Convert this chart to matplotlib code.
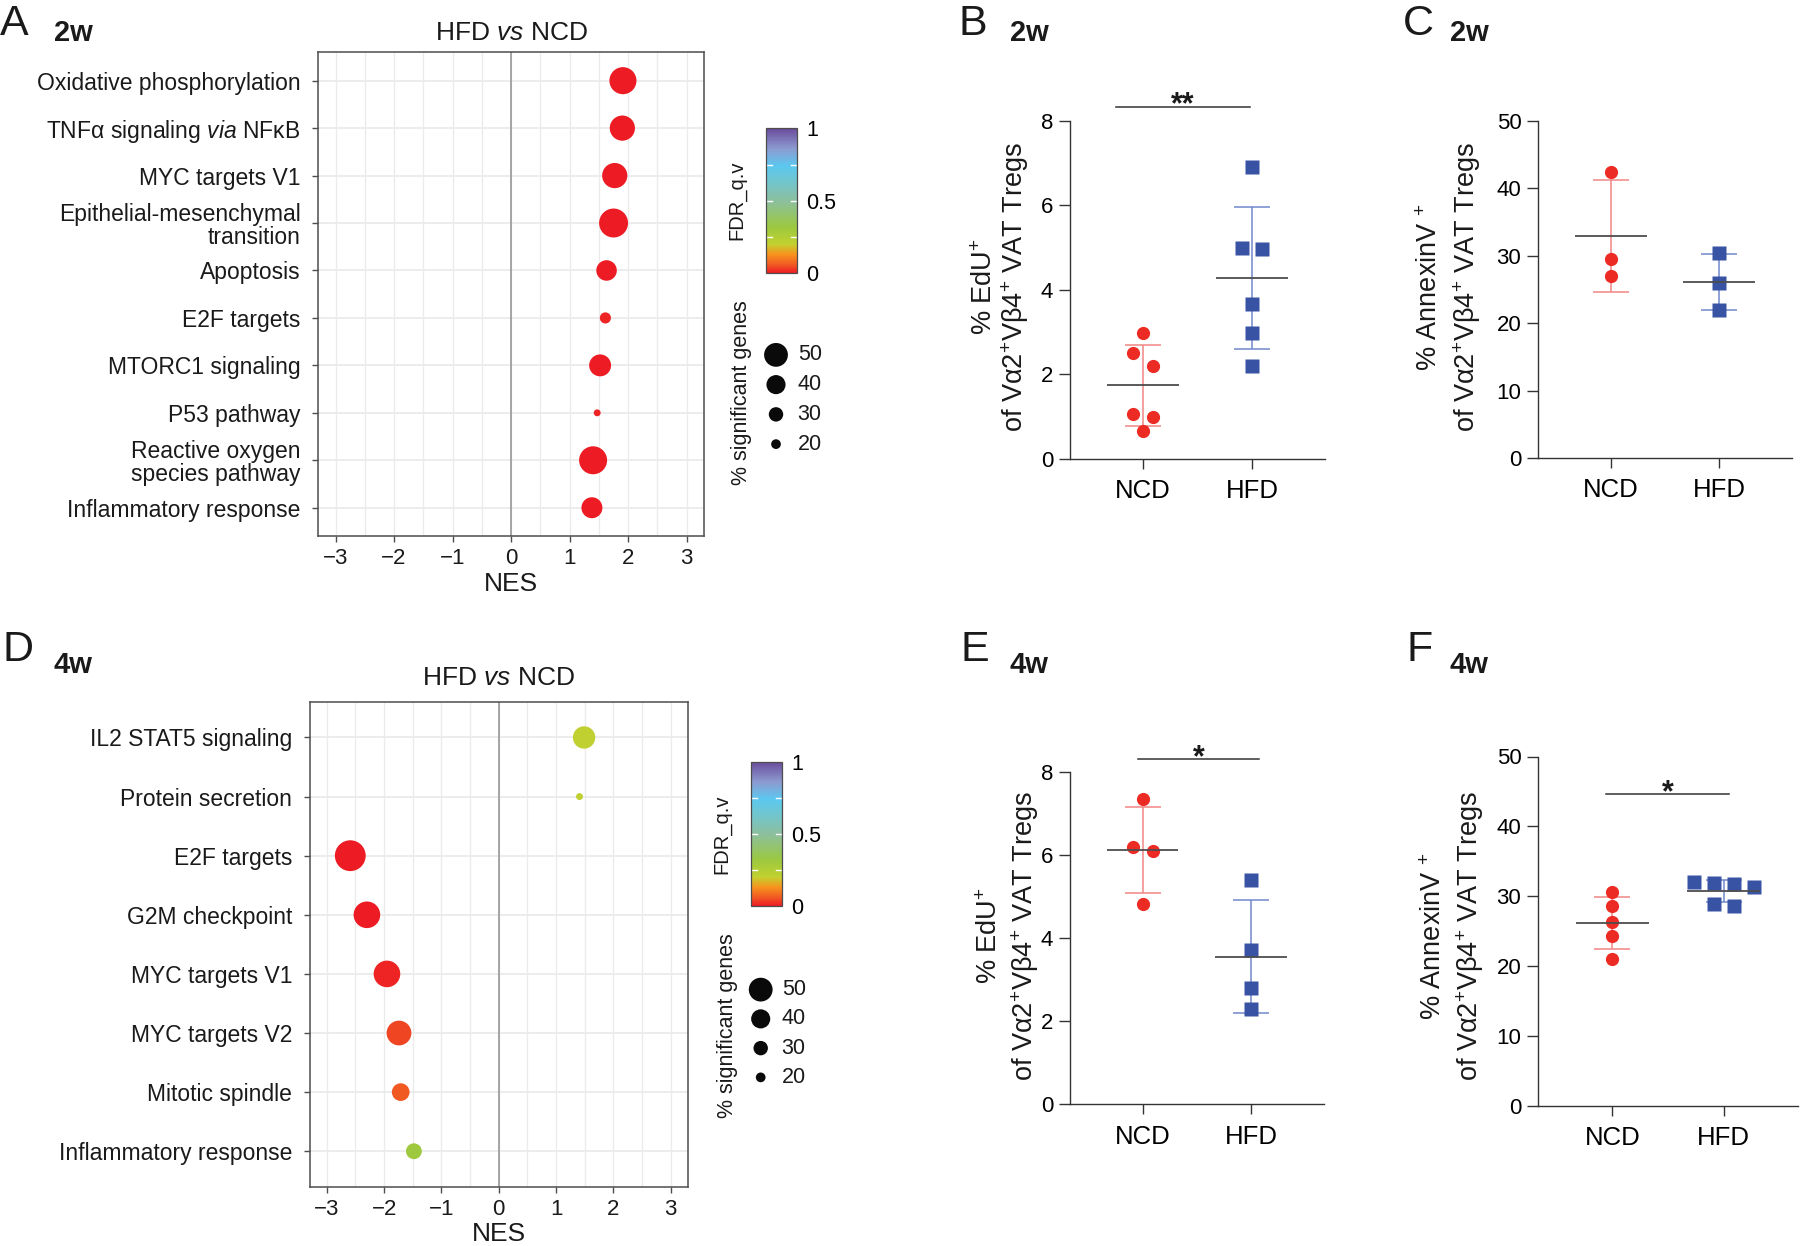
import numpy as np
import matplotlib
matplotlib.use("Agg")
import matplotlib.pyplot as plt
from matplotlib.colors import LinearSegmentedColormap, Normalize
from matplotlib.cm import ScalarMappable

plt.rcParams['font.family'] = ['Liberation Sans', 'DejaVu Sans']
plt.rcParams['mathtext.fontset'] = 'custom'
plt.rcParams['mathtext.rm'] = 'Liberation Sans'
plt.rcParams['mathtext.it'] = 'Liberation Sans:italic'
plt.rcParams['mathtext.bf'] = 'Liberation Sans:bold'
plt.rcParams['text.color'] = '#1a1a1a'

# ---------------- data ----------------
cats_2w = ['Oxidative phosphorylation', 'TNFα signaling $\\mathit{via}$ NFκB', 'MYC targets V1',
           'Epithelial-mesenchymal\ntransition', 'Apoptosis', 'E2F targets', 'MTORC1 signaling',
           'P53 pathway', 'Reactive oxygen\nspecies pathway', 'Inflammatory response']
nes_2w = [1.91, 1.90, 1.77, 1.75, 1.63, 1.61, 1.52, 1.47, 1.40, 1.38]
fdr_2w = [0.0, 0.0, 0.0, 0.0, 0.0, 0.01, 0.0, 0.01, 0.0, 0.0]
pct_2w = [57, 53, 53, 61, 43, 23, 46, 14, 59, 44]

cats_4w = ['IL2 STAT5 signaling', 'Protein secretion', 'E2F targets', 'G2M checkpoint',
           'MYC targets V1', 'MYC targets V2', 'Mitotic spindle', 'Inflammatory response']
nes_4w = [1.49, 1.41, -2.59, -2.30, -1.95, -1.74, -1.71, -1.48]
fdr_4w = [0.21, 0.21, 0.0, 0.0, 0.01, 0.04, 0.06, 0.31]
pct_4w = [47, 14, 65, 56, 56, 52, 37, 33]

size_breaks = [50, 40, 30, 20]
groups = ['NCD', 'HFD']

edu_2w_ncd = [2.99, 2.50, 2.21, 1.06, 1.00, 0.67]
edu_2w_hfd = [6.90, 4.98, 4.96, 3.66, 2.99, 2.20]
anx_2w_ncd = [42.4, 29.5, 27.0]
anx_2w_hfd = [30.4, 25.9, 22.0]
edu_4w_ncd = [7.34, 6.18, 6.10, 4.81]
edu_4w_hfd = [5.40, 3.72, 2.79, 2.30]
anx_4w_ncd = [30.6, 28.6, 26.3, 24.3, 21.0]
anx_4w_hfd = [32.0, 31.9, 31.7, 31.3, 28.9, 28.6]

# ---------------- style ----------------
cmap = LinearSegmentedColormap.from_list('fdr', [
    (0.0, '#ED1C24'), (0.06, '#F15A22'), (0.13, '#F7941D'), (0.2, '#C2D12F'),
    (0.32, '#9BC840'), (0.5, '#8CBF9E'), (0.62, '#74C5C9'), (0.74, '#5BC8F0'),
    (0.86, '#8C9BD0'), (1.0, '#6A4C9C')])
norm = Normalize(0, 1)
RED, RED_EB = '#EC2B24', '#F08585'
BLUE, BLUE_EB = '#3953A4', '#7189CB'

W, H = 1800, 1246
fig = plt.figure(figsize=(W / 100, H / 100), dpi=100)


def axpx(l, t, r, b):
    return fig.add_axes([l / W, 1 - b / H, (r - l) / W, (b - t) / H])


def ftext(x, y, s, **kw):
    return fig.text(x / W, 1 - y / H, s, **kw)


def dot_area(p):
    d = 0.469 * np.asarray(p, float) + 0.35  # diameter in px
    return (d * 0.72) ** 2


def dotplot(rect, cats, nes, fdr, pct):
    ax = axpx(*rect)
    n = len(cats)
    ypos = n - np.arange(n)
    ax.set_xlim(-3.3, 3.3)
    ax.set_ylim(0.4, n + 0.6)
    ax.set_xticks(np.arange(-3, 4))
    ax.set_xticks(np.arange(-3, 3.01, 0.5), minor=True)
    ax.set_yticks(ypos)
    ax.set_yticklabels(cats, fontsize=16.5, linespacing=1.0)
    ax.grid(True, which='both', axis='x', color='#ebebeb', lw=1.0)
    ax.grid(True, which='major', axis='y', color='#ebebeb', lw=1.3)
    ax.set_axisbelow(True)
    ax.axvline(0, color='#9e9e9e', lw=1.3, zorder=1.5)
    ax.scatter(nes, ypos, s=dot_area(pct), c=fdr, cmap=cmap, norm=norm,
               edgecolors='none', zorder=3)
    for sp in ax.spines.values():
        sp.set_color('#4d4d4d')
        sp.set_linewidth(1.1)
    ax.tick_params(axis='both', which='major', color='#4d4d4d', length=4.5, width=1.0,
                   labelcolor='#1a1a1a')
    ax.tick_params(axis='x', labelsize=16, pad=4)
    ax.tick_params(axis='y', pad=8)
    ax.tick_params(axis='x', which='minor', length=0)
    return ax


def colorbar(rect):
    cax = axpx(*rect)
    cb = fig.colorbar(ScalarMappable(norm=norm, cmap=cmap), cax=cax)
    cb.set_ticks([0, 0.5, 1])
    cb.set_ticklabels(['0', '0.5', '1'])
    cb.outline.set_edgecolor('#4d4d4d')
    cb.outline.set_linewidth(0.9)
    cax.tick_params(length=0, labelsize=15.5, pad=7)
    tr = cax.get_yaxis_transform()
    for v in (0.25, 0.5, 0.75):
        cax.plot([0, 0.2], [v, v], color='white', lw=1.0, transform=tr)
        cax.plot([0.8, 1], [v, v], color='white', lw=1.0, transform=tr)
    return cax


def size_legend(rect, x_dot, x_lab):
    lax = axpx(*rect)
    lax.set_xlim(0, rect[2] - rect[0])
    lax.set_ylim(-0.5, len(size_breaks) - 0.5)
    lax.axis('off')
    yy = np.arange(len(size_breaks))[::-1]
    lax.scatter(np.full(len(size_breaks), x_dot), yy, s=dot_area(size_breaks),
                color='#0a0a0a', edgecolors='none')
    for y, b in zip(yy, size_breaks):
        lax.text(x_lab, y, str(b), va='center', ha='left', fontsize=15.5)
    return lax


def swarm(ax, vals, diam_px=13.3, step_px=20.0):
    vals = np.asarray(vals, float)
    ypx = ax.transData.transform(np.column_stack([np.zeros_like(vals), vals]))[:, 1]
    xunit = ax.transData.transform((1, 0))[0] - ax.transData.transform((0, 0))[0]
    order = np.argsort(-vals, kind='stable')
    offs = np.zeros(len(vals))
    grps, cur = [], [order[0]]
    for a, b in zip(order[:-1], order[1:]):
        if abs(ypx[a] - ypx[b]) < diam_px:
            cur.append(b)
        else:
            grps.append(cur)
            cur = [b]
    grps.append(cur)
    for g in grps:
        k = len(g)
        for j, idx in enumerate(g):
            offs[idx] = (j - (k - 1) / 2) * step_px / xunit
    return offs


def scatter_panel(rect, ncd, hfd, ymax, ystep, sig=None, xpad=7):
    ax = axpx(*rect)
    ax.set_xlim(-0.67, 1.67)
    ax.set_ylim(0, ymax)
    ax.spines[['top', 'right']].set_visible(False)
    for s in ('left', 'bottom'):
        ax.spines[s].set_color('#333333')
        ax.spines[s].set_linewidth(1.0)
    ax.set_yticks(np.arange(0, ymax + 0.01, ystep))
    ax.set_xticks([0, 1])
    ax.set_xticklabels(groups)
    ax.tick_params(axis='y', length=8, width=1.0, color='#333333', labelsize=16, pad=4)
    ax.tick_params(axis='x', length=7.5, width=1.0, color='#333333', labelsize=18.5, pad=xpad)
    for i, (vals, fc, ec, mk) in enumerate([(ncd, RED, RED_EB, 'o'), (hfd, BLUE, BLUE_EB, 's')]):
        vals = np.asarray(vals, float)
        m = vals.mean()
        sd = vals.std(ddof=1)
        ax.errorbar(i, m, yerr=sd, fmt='none', ecolor=ec, elinewidth=1.1, capsize=13,
                    capthick=1.1, zorder=2)
        offs = swarm(ax, vals)
        ax.plot(i + offs, vals, ls='none', marker=mk, ms=9.5, color=fc, mec='none', zorder=3)
        ax.hlines(m, i - 0.33, i + 0.33, color='#4d4d4d', lw=1.3, zorder=4)
    if sig:
        x0, x1, y, label = sig
        ax.plot([x0, x1], [y, y], color='#333333', lw=1.1, clip_on=False)
        ax.annotate(label, xy=((x0 + x1) / 2, y), xytext=(0, -5), textcoords='offset points',
                    ha='center', va='baseline', fontsize=22, fontweight='bold',
                    annotation_clip=False)
    return ax


# ---------------- panel A ----------------
dotplot((318, 52.2, 704.3, 536.2), cats_2w, nes_2w, fdr_2w, pct_2w)
ftext(512, 33, 'HFD $\\mathit{vs}$ NCD', ha='center', va='center', fontsize=19)
ftext(511, 584, 'NES', ha='center', va='center', fontsize=19)
colorbar((766, 128.3, 796.7, 273.3))
ftext(737, 200, 'FDR_q.v', rotation=90, ha='center', va='center', fontsize=14.5)
size_legend((760, 340, 830, 459), 16, 37.7)
ftext(742, 393, '% significant genes', rotation=90, ha='center', va='center', fontsize=15.5)

# ---------------- panel D ----------------
dotplot((309.6, 702, 687.8, 1186.7), cats_4w, nes_4w, fdr_4w, pct_4w)
ftext(499, 678, 'HFD $\\mathit{vs}$ NCD', ha='center', va='center', fontsize=19)
ftext(499, 1234, 'NES', ha='center', va='center', fontsize=19)
colorbar((750.7, 761.7, 781.7, 906))
ftext(722, 834, 'FDR_q.v', rotation=90, ha='center', va='center', fontsize=14.5)
size_legend((745, 975, 815, 1092), 15.7, 36.7)
ftext(727, 1026, '% significant genes', rotation=90, ha='center', va='center', fontsize=15.5)

# ---------------- panels B, C, E, F ----------------
YL = 19.5
scatter_panel((1070, 120.7, 1325, 459), edu_2w_ncd, edu_2w_hfd, 8, 2,
              sig=(-0.25, 0.98, 8.33, '**'))
ftext(985, 287, '% EdU$^{+}$', rotation=90, ha='center', va='center', fontsize=YL)
ftext(1015, 287, 'of Vα2$^{+}$Vβ4$^{+}$ VAT Tregs', rotation=90, ha='center', va='center', fontsize=YL)

scatter_panel((1538, 120.7, 1792, 458.3), anx_2w_ncd, anx_2w_hfd, 50, 10)
ftext(1430, 287, '% AnnexinV $^{+}$', rotation=90, ha='center', va='center', fontsize=YL)
ftext(1466.7, 287, 'of Vα2$^{+}$Vβ4$^{+}$ VAT Tregs', rotation=90, ha='center', va='center', fontsize=YL)

scatter_panel((1070, 771.5, 1323.6, 1104.4), edu_4w_ncd, edu_4w_hfd, 8, 2,
              sig=(-0.04, 1.07, 8.29, '*'))
ftext(990, 936, '% EdU$^{+}$', rotation=90, ha='center', va='center', fontsize=YL)
ftext(1025, 936, 'of Vα2$^{+}$Vβ4$^{+}$ VAT Tregs', rotation=90, ha='center', va='center', fontsize=YL)

scatter_panel((1538, 756.5, 1798, 1105.5), anx_4w_ncd, anx_4w_hfd, 50, 10,
              sig=(-0.06, 1.05, 44.6, '*'))
ftext(1434, 936, '% AnnexinV $^{+}$', rotation=90, ha='center', va='center', fontsize=YL)
ftext(1470.6, 936, 'of Vα2$^{+}$Vβ4$^{+}$ VAT Tregs', rotation=90, ha='center', va='center', fontsize=YL)

# ---------------- panel letters ----------------
for x, y, s in [(0, 24, 'A'), (958, 24, 'B'), (1403, 24, 'C'),
                (2, 650, 'D'), (960, 650, 'E'), (1406, 650, 'F')]:
    ftext(x, y, s, ha='left', va='center', fontsize=31)
for x, y, s in [(54, 33, '2w'), (1010, 33, '2w'), (1450, 33, '2w'),
                (53, 665, '4w'), (1010, 665, '4w'), (1450, 665, '4w')]:
    ftext(x, y, s, ha='left', va='center', fontsize=21, fontweight='bold')

fig.savefig('out.png', dpi=100)
